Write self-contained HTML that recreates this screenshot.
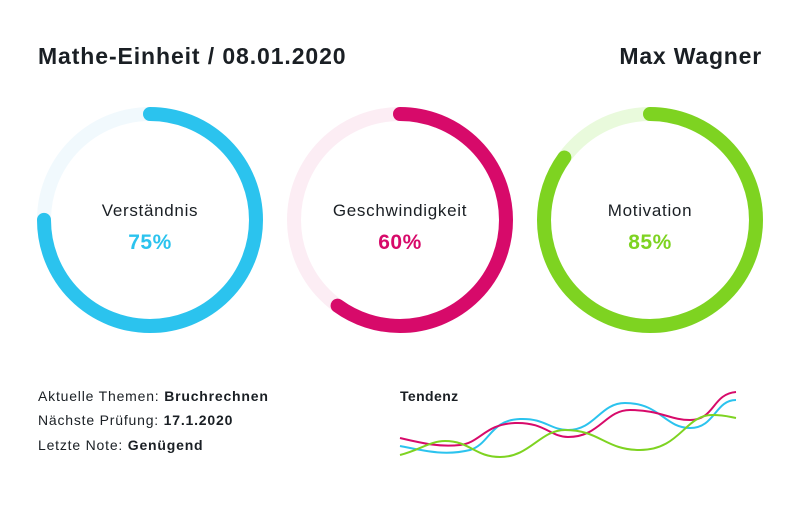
<!DOCTYPE html>
<html><head><meta charset="utf-8"><style>
html,body{margin:0;padding:0;background:#fff;}
body{width:800px;height:500px;overflow:hidden;font-family:"Liberation Sans",sans-serif;}
</style></head><body>
<svg width="800" height="500" viewBox="0 0 800 500" xmlns="http://www.w3.org/2000/svg" font-family="Liberation Sans, sans-serif">
<rect x="0" y="0" width="800" height="500" fill="#fff"/>
<text x="38" y="64" font-size="23" font-weight="bold" fill="#1a1f24" letter-spacing="0.9">Mathe-Einheit / 08.01.2020</text>
<text x="762" y="64" font-size="23" font-weight="bold" fill="#1a1f24" text-anchor="end" letter-spacing="0.8">Max Wagner</text>
<g fill="none" stroke-width="14" stroke-linecap="round">
<circle cx="150" cy="220" r="106" stroke="#f1f9fd"/>
<circle cx="150" cy="220" r="106" stroke="#2bc3ee" stroke-dasharray="499.5 1000" transform="rotate(-90 150 220)"/>
<circle cx="400" cy="220" r="106" stroke="#fcedf4"/>
<circle cx="400" cy="220" r="106" stroke="#d70a6a" stroke-dasharray="399.6 1000" transform="rotate(-90 400 220)"/>
<circle cx="650" cy="220" r="106" stroke="#e9fadc"/>
<circle cx="650" cy="220" r="106" stroke="#7ed321" stroke-dasharray="566.1 1000" transform="rotate(-90 650 220)"/>
</g>
<g text-anchor="middle">
<text x="150" y="216" font-size="17" fill="#1a1f24" letter-spacing="0.7">Verständnis</text>
<text x="150" y="249" font-size="21" font-weight="bold" fill="#2bc3ee" letter-spacing="0.5">75%</text>
<text x="400" y="216" font-size="17" fill="#1a1f24" letter-spacing="0.7">Geschwindigkeit</text>
<text x="400" y="249" font-size="21" font-weight="bold" fill="#d70a6a" letter-spacing="0.5">60%</text>
<text x="650" y="216" font-size="17" fill="#1a1f24" letter-spacing="0.7">Motivation</text>
<text x="650" y="249" font-size="21" font-weight="bold" fill="#7ed321" letter-spacing="0.5">85%</text>
</g>
<g font-size="14" fill="#1a1f24" letter-spacing="0.8">
<text x="38" y="401">Aktuelle Themen: <tspan font-weight="bold">Bruchrechnen</tspan></text>
<text x="38" y="425">Nächste Prüfung: <tspan font-weight="bold">17.1.2020</tspan></text>
<text x="38" y="450">Letzte Note: <tspan font-weight="bold">Genügend</tspan></text>
<text x="400" y="401" font-weight="bold" letter-spacing="0.4">Tendenz</text>
</g>
<g fill="none" stroke-width="2">
<path d="M400 446 C425 451 445 456 470 450 C490 444 490 420 520 419 C545 418 550 430 568 430 C595 430 600 403 625 403 C660 403 665 428 690 428 C715 428 715 400 736 400" stroke="#2bc3ee"/>
<path d="M400 438 C425 444 440 447 460 445 C480 443 485 424 515 423 C545 422 550 437 568 437 C600 437 605 410 630 410 C660 410 670 420 690 420 C715 420 712 394 736 392" stroke="#d70a6a"/>
<path d="M400 455 C420 450 430 441 445 441 C470 441 475 457 500 457 C530 457 540 430 565 430 C600 430 605 450 640 450 C680 450 685 415 712 415 C725 415 730 417 736 418" stroke="#7ed321"/>
</g>
</svg>
</body></html>
